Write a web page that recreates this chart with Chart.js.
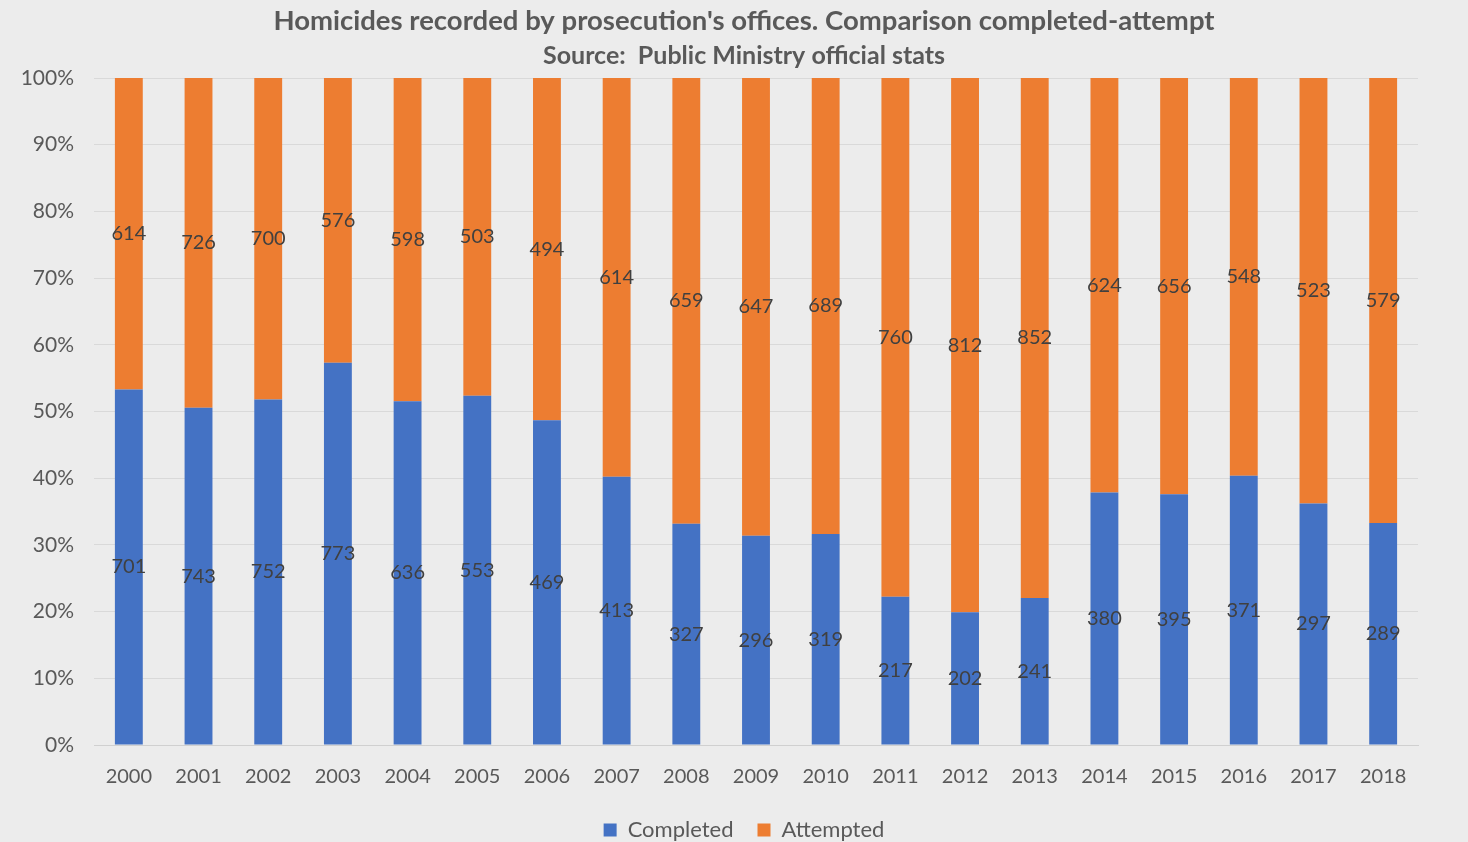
<!DOCTYPE html>
<html>
<head>
<meta charset="utf-8">
<script src="https://cdn.jsdelivr.net/npm/chart.js@4/dist/chart.umd.min.js"></script>
<style>
  html, body { margin: 0; padding: 0; background: #ececec; overflow: hidden; }
  #wrap { width: 1468px; height: 842px; overflow: hidden; }
</style>
</head>
<body>
<div id="wrap"><canvas id="myChart" width="1468" height="851"></canvas></div>
<script>
const years = ['2000','2001','2002','2003','2004','2005','2006','2007','2008','2009',
  '2010','2011','2012','2013','2014','2015','2016','2017','2018'];
const completed = [701, 743, 752, 773, 636, 553, 469, 413, 327, 296, 319, 217, 202, 241, 380, 395, 371, 297, 289];
const attempted = [614, 726, 700, 576, 598, 503, 494, 614, 659, 647, 689, 760, 812, 852, 624, 656, 548, 523, 579];
const yTicks = [0, 10, 20, 30, 40, 50, 60, 70, 80, 90, 100];

const pct = (arr, i) => arr[i] / (completed[i] + attempted[i]) * 100;
const completedPct = completed.map((v, i) => pct(completed, i));
const attemptedPct = attempted.map((v, i) => pct(attempted, i));
const rawCounts = [completed, attempted];

// write the raw counts in the middle of each segment
const segmentLabels = {
  id: 'segmentLabels',
  afterDatasetsDraw(chart) {
    const ctx = chart.ctx;
    ctx.save();
    ctx.font = '20px Lato, sans-serif';
    ctx.fillStyle = '#404040';
    ctx.textAlign = 'center';
    ctx.textBaseline = 'middle';
    chart.data.datasets.forEach((ds, d) => {
      chart.getDatasetMeta(d).data.forEach((bar, i) => {
        const mid = (bar.y + bar.base) / 2;
        ctx.fillText(rawCounts[d][i], bar.x, mid);
      });
    });
    ctx.restore();
  }
};

const ctx = document.getElementById('myChart').getContext('2d');
new Chart(ctx, {
  type: 'bar',
  data: {
    labels: years,
    datasets: [
      { label: 'Completed', data: completedPct, backgroundColor: '#4472c4' },
      { label: 'Attempted', data: attemptedPct, backgroundColor: '#ed7d31' }
    ]
  },
  options: {
    responsive: false,
    animation: false,
    layout: { padding: { left: 20, right: 0, top: 0, bottom: 0 } },
    datasets: { bar: { barPercentage: 0.4, categoryPercentage: 1.0 } },
    plugins: {
      title: {
        display: true,
        text: "Homicides recorded by prosecution's offices. Comparison completed-attempt",
        color: '#595959',
        font: { family: 'Lato, sans-serif', size: 27.5, weight: 'bold' },
        padding: { top: 5, bottom: 2 }
      },
      subtitle: {
        display: true,
        text: 'Source:  Public Ministry official stats',
        color: '#595959',
        font: { family: 'Lato, sans-serif', size: 25, weight: 'bold' },
        padding: { top: 1, bottom: 7 }
      },
      legend: {
        position: 'bottom',
        labels: {
          color: '#595959',
          font: { family: 'Lato, sans-serif', size: 22 },
          boxWidth: 13, boxHeight: 13, padding: 24
        }
      },
      tooltip: { enabled: false }
    },
    scales: {
      x: {
        stacked: true,
        grid: { display: false },
        border: { color: '#d0d0d0' },
        ticks: { color: '#595959', font: { family: 'Lato, sans-serif', size: 20 }, padding: 12 },
        afterFit: axis => { axis.height = 50; }
      },
      y: {
        stacked: true,
        min: 0, max: 100,
        afterBuildTicks: axis => { axis.ticks = yTicks.map(v => ({ value: v })); },
        afterFit: axis => { axis.width = 74; },
        grid: { color: '#d9d9d9', drawTicks: false },
        border: { display: false },
        ticks: {
          color: '#595959',
          font: { family: 'Lato, sans-serif', size: 21 },
          padding: 20,
          callback: v => v + '%'
        }
      },
      // empty right-hand margin so the titles sit where they do in the original
      yRight: {
        position: 'right',
        display: true,
        grid: { display: false },
        border: { display: false },
        ticks: { display: false },
        afterFit: axis => { axis.width = 50; }
      }
    }
  },
  plugins: [segmentLabels]
});
</script>
</body>
</html>
